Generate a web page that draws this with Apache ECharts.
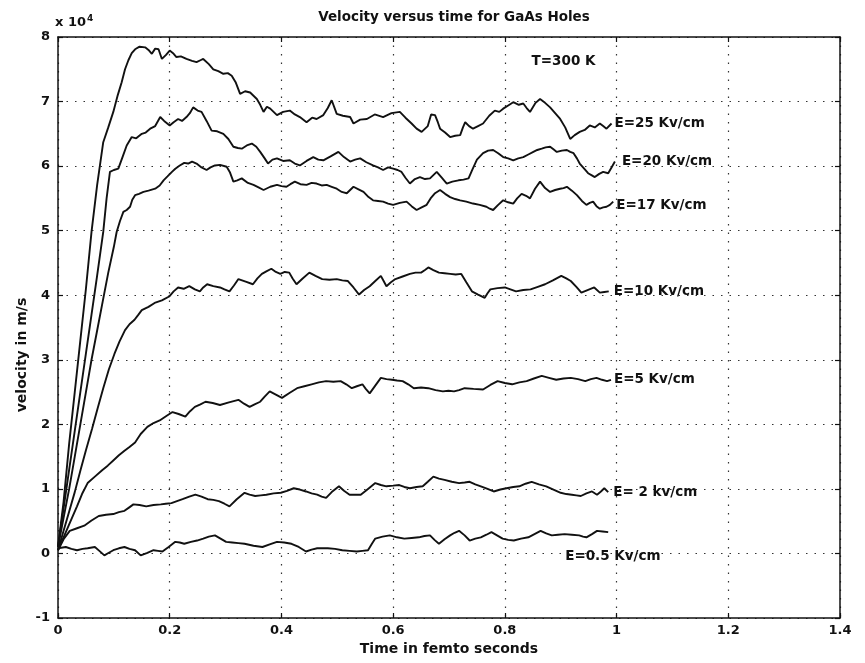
<!DOCTYPE html>
<html>
<head>
<meta charset="utf-8">
<script src="https://cdn.jsdelivr.net/npm/echarts@6/dist/echarts.min.js"></script>
<style>
  html, body { margin: 0; padding: 0; background: #fff; }
  #chart { width: 865px; height: 663px; }
</style>
</head>
<body>
<div id="chart"></div>
<script>
// Drift velocity of holes in GaAs (units of 1e4 m/s) against time (fs), T = 300 K.
// Each series: [time, velocity] pairs.
const fieldLabels = ['E=25 Kv/cm', 'E=20 Kv/cm', 'E=17 Kv/cm', 'E=10 Kv/cm', 'E=5 Kv/cm', 'E= 2 kv/cm', 'E=0.5 Kv/cm'];

const e25 = [[0,0.1],[0.01,0.8],[0.02,1.7],[0.03,2.5],[0.04,3.3],[0.05,4.1],[0.06,4.98],[0.07,5.7],[0.081,6.37],[0.09,6.6],[0.099,6.84],[0.107,7.1],[0.114,7.30],[0.12,7.5],[0.126,7.64],[0.132,7.75],[0.138,7.81],[0.146,7.85],[0.156,7.84],[0.162,7.80],[0.168,7.74],[0.174,7.82],[0.18,7.81],[0.186,7.66],[0.193,7.72],[0.2,7.79],[0.206,7.75],[0.212,7.69],[0.22,7.70],[0.23,7.66],[0.24,7.63],[0.248,7.61],[0.255,7.64],[0.26,7.66],[0.27,7.58],[0.278,7.50],[0.287,7.47],[0.296,7.43],[0.304,7.44],[0.311,7.40],[0.318,7.30],[0.326,7.12],[0.335,7.16],[0.344,7.14],[0.356,7.04],[0.362,6.95],[0.368,6.84],[0.374,6.92],[0.38,6.89],[0.392,6.79],[0.403,6.84],[0.415,6.86],[0.424,6.80],[0.433,6.76],[0.445,6.68],[0.455,6.75],[0.463,6.73],[0.475,6.79],[0.483,6.90],[0.49,7.02],[0.499,6.81],[0.51,6.78],[0.523,6.76],[0.529,6.66],[0.541,6.72],[0.553,6.73],[0.567,6.80],[0.582,6.76],[0.597,6.82],[0.612,6.84],[0.622,6.75],[0.633,6.66],[0.642,6.58],[0.651,6.53],[0.662,6.62],[0.668,6.80],[0.675,6.79],[0.68,6.68],[0.684,6.58],[0.693,6.52],[0.702,6.45],[0.711,6.47],[0.72,6.48],[0.725,6.60],[0.729,6.68],[0.736,6.62],[0.743,6.58],[0.752,6.62],[0.761,6.66],[0.772,6.78],[0.782,6.86],[0.79,6.84],[0.797,6.89],[0.806,6.94],[0.815,6.99],[0.825,6.95],[0.833,6.97],[0.839,6.90],[0.845,6.84],[0.855,6.98],[0.863,7.04],[0.872,6.98],[0.881,6.91],[0.89,6.82],[0.899,6.73],[0.908,6.60],[0.917,6.42],[0.925,6.48],[0.934,6.53],[0.943,6.56],[0.952,6.63],[0.961,6.60],[0.97,6.66],[0.976,6.62],[0.982,6.58],[0.991,6.66]];

const e20 = [[0,0.1],[0.01,0.7],[0.02,1.3],[0.03,1.9],[0.04,2.5],[0.05,3.1],[0.06,3.7],[0.07,4.3],[0.081,4.98],[0.087,5.5],[0.093,5.91],[0.1,5.94],[0.108,5.96],[0.116,6.15],[0.123,6.32],[0.132,6.45],[0.14,6.43],[0.15,6.50],[0.157,6.52],[0.165,6.58],[0.174,6.62],[0.183,6.76],[0.19,6.70],[0.2,6.63],[0.207,6.68],[0.215,6.73],[0.222,6.70],[0.23,6.76],[0.236,6.82],[0.242,6.91],[0.25,6.86],[0.257,6.84],[0.266,6.70],[0.275,6.55],[0.285,6.54],[0.296,6.50],[0.305,6.42],[0.314,6.30],[0.322,6.28],[0.329,6.27],[0.338,6.32],[0.347,6.35],[0.355,6.30],[0.362,6.22],[0.37,6.12],[0.376,6.04],[0.384,6.10],[0.392,6.12],[0.403,6.08],[0.415,6.09],[0.424,6.04],[0.433,6.01],[0.445,6.08],[0.457,6.14],[0.466,6.10],[0.475,6.09],[0.488,6.15],[0.502,6.22],[0.512,6.14],[0.523,6.07],[0.532,6.10],[0.541,6.12],[0.552,6.06],[0.564,6.01],[0.573,5.98],[0.582,5.94],[0.591,5.98],[0.6,5.96],[0.608,5.94],[0.615,5.91],[0.622,5.82],[0.63,5.73],[0.639,5.80],[0.648,5.83],[0.657,5.80],[0.666,5.81],[0.672,5.86],[0.678,5.91],[0.687,5.82],[0.696,5.73],[0.706,5.76],[0.717,5.78],[0.726,5.79],[0.735,5.81],[0.742,5.95],[0.75,6.10],[0.761,6.20],[0.77,6.24],[0.779,6.25],[0.788,6.20],[0.797,6.14],[0.806,6.12],[0.815,6.09],[0.824,6.12],[0.833,6.14],[0.842,6.18],[0.851,6.22],[0.858,6.25],[0.866,6.27],[0.873,6.29],[0.881,6.30],[0.887,6.26],[0.893,6.22],[0.902,6.24],[0.911,6.25],[0.917,6.22],[0.923,6.20],[0.929,6.12],[0.934,6.04],[0.942,5.96],[0.949,5.89],[0.955,5.86],[0.961,5.83],[0.969,5.88],[0.976,5.91],[0.985,5.89],[0.991,5.98],[0.997,6.07]];

const e17 = [[0,0.1],[0.01,0.55],[0.02,1.0],[0.03,1.5],[0.04,2.0],[0.05,2.5],[0.06,3.0],[0.07,3.45],[0.08,3.9],[0.09,4.35],[0.1,4.75],[0.105,4.98],[0.111,5.15],[0.117,5.29],[0.123,5.32],[0.129,5.37],[0.133,5.48],[0.138,5.55],[0.145,5.57],[0.153,5.60],[0.162,5.62],[0.174,5.65],[0.182,5.70],[0.189,5.78],[0.196,5.84],[0.204,5.91],[0.21,5.96],[0.218,6.01],[0.226,6.05],[0.233,6.04],[0.24,6.07],[0.248,6.04],[0.257,5.98],[0.266,5.94],[0.273,5.98],[0.281,6.01],[0.29,6.02],[0.302,5.99],[0.308,5.90],[0.314,5.76],[0.321,5.78],[0.329,5.81],[0.34,5.74],[0.35,5.71],[0.359,5.67],[0.368,5.63],[0.38,5.68],[0.392,5.71],[0.4,5.69],[0.409,5.68],[0.416,5.72],[0.424,5.76],[0.434,5.72],[0.445,5.71],[0.454,5.74],[0.463,5.73],[0.472,5.70],[0.481,5.71],[0.49,5.68],[0.499,5.65],[0.508,5.60],[0.517,5.58],[0.529,5.68],[0.538,5.64],[0.547,5.60],[0.556,5.52],[0.564,5.47],[0.573,5.46],[0.582,5.45],[0.591,5.42],[0.6,5.40],[0.612,5.43],[0.624,5.45],[0.633,5.38],[0.642,5.32],[0.651,5.36],[0.66,5.40],[0.667,5.50],[0.675,5.58],[0.684,5.63],[0.693,5.57],[0.702,5.52],[0.711,5.49],[0.72,5.47],[0.731,5.45],[0.743,5.42],[0.755,5.40],[0.767,5.37],[0.773,5.34],[0.779,5.32],[0.788,5.40],[0.797,5.47],[0.806,5.44],[0.815,5.42],[0.822,5.50],[0.83,5.57],[0.838,5.54],[0.845,5.50],[0.854,5.65],[0.863,5.76],[0.872,5.66],[0.881,5.60],[0.89,5.63],[0.899,5.65],[0.905,5.66],[0.911,5.68],[0.92,5.62],[0.929,5.55],[0.938,5.46],[0.946,5.40],[0.952,5.43],[0.958,5.45],[0.964,5.38],[0.97,5.34],[0.976,5.36],[0.982,5.37],[0.988,5.40],[0.994,5.45]];

const e10 = [[0,0.05],[0.01,0.35],[0.02,0.65],[0.03,0.95],[0.04,1.28],[0.05,1.6],[0.061,1.93],[0.071,2.25],[0.081,2.56],[0.091,2.85],[0.101,3.09],[0.11,3.28],[0.12,3.46],[0.128,3.55],[0.137,3.62],[0.144,3.70],[0.15,3.77],[0.162,3.82],[0.173,3.88],[0.186,3.92],[0.199,3.98],[0.207,4.06],[0.215,4.12],[0.225,4.10],[0.235,4.14],[0.245,4.09],[0.254,4.06],[0.26,4.12],[0.267,4.17],[0.278,4.14],[0.29,4.12],[0.298,4.09],[0.307,4.06],[0.315,4.15],[0.323,4.25],[0.336,4.21],[0.349,4.17],[0.357,4.26],[0.365,4.33],[0.373,4.37],[0.382,4.41],[0.39,4.36],[0.398,4.33],[0.406,4.36],[0.414,4.35],[0.42,4.26],[0.427,4.17],[0.438,4.26],[0.45,4.35],[0.461,4.30],[0.473,4.25],[0.486,4.24],[0.499,4.25],[0.509,4.23],[0.519,4.22],[0.529,4.12],[0.539,4.01],[0.548,4.08],[0.558,4.14],[0.568,4.22],[0.578,4.30],[0.583,4.22],[0.588,4.14],[0.596,4.20],[0.604,4.25],[0.617,4.29],[0.63,4.33],[0.64,4.35],[0.65,4.35],[0.657,4.39],[0.663,4.43],[0.672,4.39],[0.682,4.35],[0.692,4.34],[0.702,4.33],[0.712,4.32],[0.722,4.33],[0.731,4.20],[0.741,4.06],[0.752,4.01],[0.764,3.96],[0.769,4.03],[0.774,4.09],[0.787,4.11],[0.8,4.12],[0.81,4.09],[0.82,4.06],[0.833,4.08],[0.846,4.09],[0.859,4.13],[0.872,4.17],[0.886,4.23],[0.901,4.30],[0.91,4.26],[0.918,4.22],[0.928,4.13],[0.937,4.04],[0.948,4.08],[0.96,4.12],[0.97,4.04],[0.978,4.05],[0.986,4.06]];

const e5 = [[0,0.05],[0.01,0.25],[0.02,0.45],[0.034,0.73],[0.043,0.92],[0.053,1.09],[0.066,1.19],[0.079,1.29],[0.089,1.36],[0.099,1.44],[0.109,1.52],[0.119,1.59],[0.128,1.65],[0.138,1.72],[0.148,1.85],[0.16,1.96],[0.171,2.02],[0.182,2.06],[0.194,2.13],[0.205,2.19],[0.216,2.16],[0.228,2.12],[0.236,2.20],[0.245,2.27],[0.255,2.31],[0.264,2.35],[0.277,2.33],[0.29,2.30],[0.306,2.34],[0.323,2.38],[0.333,2.32],[0.343,2.27],[0.352,2.31],[0.362,2.35],[0.37,2.43],[0.379,2.51],[0.39,2.46],[0.401,2.41],[0.415,2.49],[0.428,2.56],[0.441,2.59],[0.454,2.62],[0.467,2.65],[0.48,2.67],[0.493,2.66],[0.506,2.67],[0.516,2.62],[0.526,2.56],[0.535,2.59],[0.545,2.62],[0.551,2.55],[0.558,2.48],[0.568,2.60],[0.578,2.72],[0.588,2.70],[0.598,2.69],[0.607,2.68],[0.617,2.67],[0.627,2.62],[0.637,2.56],[0.65,2.57],[0.663,2.56],[0.676,2.53],[0.689,2.51],[0.699,2.52],[0.709,2.51],[0.718,2.53],[0.728,2.56],[0.744,2.55],[0.761,2.54],[0.774,2.61],[0.787,2.67],[0.8,2.64],[0.813,2.62],[0.826,2.65],[0.839,2.67],[0.852,2.71],[0.866,2.75],[0.879,2.72],[0.892,2.69],[0.905,2.71],[0.918,2.72],[0.931,2.70],[0.944,2.67],[0.954,2.70],[0.964,2.72],[0.974,2.69],[0.983,2.67],[0.99,2.69]];

const e2 = [[0,0.05],[0.01,0.22],[0.021,0.35],[0.034,0.39],[0.047,0.43],[0.06,0.51],[0.073,0.58],[0.086,0.60],[0.099,0.61],[0.109,0.64],[0.119,0.66],[0.127,0.71],[0.135,0.76],[0.146,0.75],[0.158,0.73],[0.171,0.75],[0.184,0.76],[0.193,0.77],[0.203,0.78],[0.213,0.81],[0.223,0.84],[0.235,0.88],[0.246,0.91],[0.257,0.88],[0.268,0.84],[0.278,0.83],[0.288,0.81],[0.298,0.77],[0.307,0.73],[0.32,0.84],[0.334,0.94],[0.343,0.91],[0.353,0.89],[0.363,0.90],[0.373,0.91],[0.386,0.93],[0.399,0.94],[0.41,0.97],[0.422,1.01],[0.433,0.99],[0.444,0.96],[0.454,0.93],[0.464,0.91],[0.472,0.88],[0.48,0.86],[0.49,0.95],[0.503,1.04],[0.512,0.97],[0.522,0.91],[0.532,0.91],[0.542,0.91],[0.555,1.00],[0.568,1.09],[0.578,1.06],[0.588,1.04],[0.6,1.05],[0.611,1.06],[0.62,1.03],[0.63,1.01],[0.642,1.03],[0.653,1.04],[0.662,1.11],[0.672,1.19],[0.682,1.16],[0.692,1.14],[0.705,1.11],[0.718,1.09],[0.728,1.10],[0.737,1.11],[0.747,1.07],[0.757,1.04],[0.769,1.00],[0.78,0.96],[0.792,0.99],[0.803,1.01],[0.815,1.03],[0.826,1.04],[0.837,1.08],[0.848,1.11],[0.861,1.07],[0.874,1.04],[0.887,0.99],[0.9,0.94],[0.91,0.92],[0.92,0.91],[0.928,0.90],[0.936,0.89],[0.946,0.93],[0.956,0.96],[0.965,0.91],[0.972,0.96],[0.978,1.01],[0.985,0.95]];

const e05 = [[0,0.08],[0.014,0.10],[0.024,0.07],[0.034,0.05],[0.044,0.07],[0.053,0.08],[0.066,0.10],[0.074,0.04],[0.083,-0.03],[0.091,0.01],[0.099,0.05],[0.109,0.08],[0.119,0.10],[0.128,0.07],[0.138,0.05],[0.148,-0.03],[0.16,0.01],[0.171,0.05],[0.179,0.04],[0.187,0.03],[0.198,0.10],[0.21,0.18],[0.218,0.17],[0.226,0.15],[0.238,0.18],[0.249,0.20],[0.26,0.23],[0.27,0.26],[0.281,0.28],[0.291,0.23],[0.301,0.18],[0.312,0.17],[0.323,0.16],[0.334,0.15],[0.35,0.12],[0.366,0.10],[0.379,0.14],[0.392,0.18],[0.405,0.17],[0.418,0.15],[0.431,0.10],[0.444,0.03],[0.454,0.06],[0.464,0.08],[0.474,0.08],[0.483,0.08],[0.496,0.07],[0.509,0.05],[0.522,0.04],[0.535,0.03],[0.545,0.04],[0.555,0.05],[0.562,0.15],[0.568,0.23],[0.581,0.26],[0.594,0.28],[0.607,0.25],[0.62,0.23],[0.633,0.24],[0.646,0.25],[0.656,0.27],[0.666,0.28],[0.674,0.21],[0.682,0.15],[0.692,0.22],[0.702,0.28],[0.71,0.32],[0.718,0.35],[0.728,0.28],[0.737,0.20],[0.747,0.23],[0.757,0.25],[0.767,0.29],[0.776,0.33],[0.786,0.28],[0.796,0.23],[0.806,0.21],[0.816,0.20],[0.829,0.23],[0.842,0.25],[0.853,0.30],[0.864,0.35],[0.874,0.31],[0.884,0.28],[0.895,0.29],[0.907,0.30],[0.92,0.29],[0.933,0.28],[0.94,0.26],[0.946,0.25],[0.956,0.30],[0.965,0.35],[0.975,0.34],[0.985,0.33]];

const curves = [e25, e20, e17, e10, e5, e2, e05];

// Temperature note, centred on this data point
const tempNote = { text: 'T=300 K', at: [0.905, 7.62] };

const FONT = '"DejaVu Sans", Verdana, sans-serif';
const INK = '#111';

// Per-curve shift of the end label (pixels)
const labelShift = [[0, 0], [4, 0], [0, 4], [2, 0], [0, 0], [2, 0], [-46, 24]];

const chart = echarts.init(document.getElementById('chart'), null, { renderer: 'canvas' });

const gridLine = { show: true, lineStyle: { color: '#333', width: 1.2, type: [1.5, 7] } };

const series = curves.map((data, i) => ({
  type: 'line',
  data: data,
  xAxisIndex: 0,
  yAxisIndex: 0,
  showSymbol: false,
  symbol: 'none',
  lineStyle: { color: INK, width: 1.9 },
  endLabel: {
    show: true,
    formatter: fieldLabels[i],
    distance: 3,
    offset: labelShift[i],
    color: INK,
    fontFamily: FONT,
    fontSize: 13.5,
    fontWeight: 'bold'
  },
  z: 3
}));

series.push({
  type: 'scatter',
  data: [tempNote.at],
  symbolSize: 0,
  itemStyle: { opacity: 1 },
  label: {
    show: true,
    position: 'inside',
    formatter: tempNote.text,
    color: INK,
    fontFamily: FONT,
    fontSize: 13.5,
    fontWeight: 'bold'
  },
  silent: true
});

const option = {
  animation: false,
  backgroundColor: '#fff',
  textStyle: { fontFamily: FONT, color: INK },
  title: {
    text: 'Velocity versus time for GaAs Holes',
    left: 449,
    top: 5,
    textAlign: 'center',
    textStyle: { fontFamily: FONT, fontSize: 13.5, fontWeight: 'bold', color: INK }
  },
  grid: { left: 58, right: 25, top: 37, bottom: 45, containLabel: false },
  xAxis: [
    {
      type: 'value', min: 0, max: 1.4, interval: 0.2, position: 'bottom',
      name: 'Time in femto seconds', nameLocation: 'middle', nameGap: 22,
      nameTextStyle: { fontFamily: FONT, fontSize: 14, fontWeight: 'bold', color: INK },
      axisLine: { show: true, onZero: false, lineStyle: { color: INK, width: 1.5 } },
      axisTick: { show: true, inside: true, length: 5, lineStyle: { color: INK, width: 1.2 } },
      axisLabel: { fontFamily: FONT, fontSize: 13, fontWeight: 'bold', color: INK, margin: 6 },
      splitLine: gridLine
    },
    {
      type: 'value', min: 0, max: 1.4, interval: 0.2, position: 'top',
      axisLine: { show: true, onZero: false, lineStyle: { color: INK, width: 1.5 } },
      axisTick: { show: true, inside: true, length: 5, lineStyle: { color: INK, width: 1.2 } },
      axisLabel: { show: false },
      splitLine: { show: false }
    }
  ],
  yAxis: [
    {
      type: 'value', min: -1, max: 8, interval: 1, position: 'left',
      axisLine: { show: true, onZero: false, lineStyle: { color: INK, width: 1.5 } },
      axisTick: { show: true, inside: true, length: 5, lineStyle: { color: INK, width: 1.2 } },
      axisLabel: { fontFamily: FONT, fontSize: 13, fontWeight: 'bold', color: INK, margin: 8 },
      splitLine: gridLine
    },
    {
      type: 'value', min: -1, max: 8, interval: 1, position: 'right',
      axisLine: { show: true, onZero: false, lineStyle: { color: INK, width: 1.5 } },
      axisTick: { show: true, inside: true, length: 5, lineStyle: { color: INK, width: 1.2 } },
      axisLabel: { show: false },
      splitLine: { show: false }
    }
  ],
  graphic: [
    {
      type: 'text',
      left: 55,
      top: 14,
      style: {
        text: 'x 10{sup|4}',
        fill: INK,
        font: 'bold 13px ' + FONT,
        rich: { sup: { fontSize: 9, fontWeight: 'bold', fill: INK, padding: [0, 0, 9, 1], fontFamily: FONT } }
      }
    },
    {
      // vertical axis title
      type: 'text',
      x: 22,
      y: 355,
      rotation: Math.PI / 2,
      style: {
        text: 'velocity in m/s',
        fill: INK,
        font: 'bold 14px ' + FONT,
        align: 'center',
        verticalAlign: 'middle'
      }
    }
  ],
  series: series
};

chart.setOption(option);
</script>
</body>
</html>
